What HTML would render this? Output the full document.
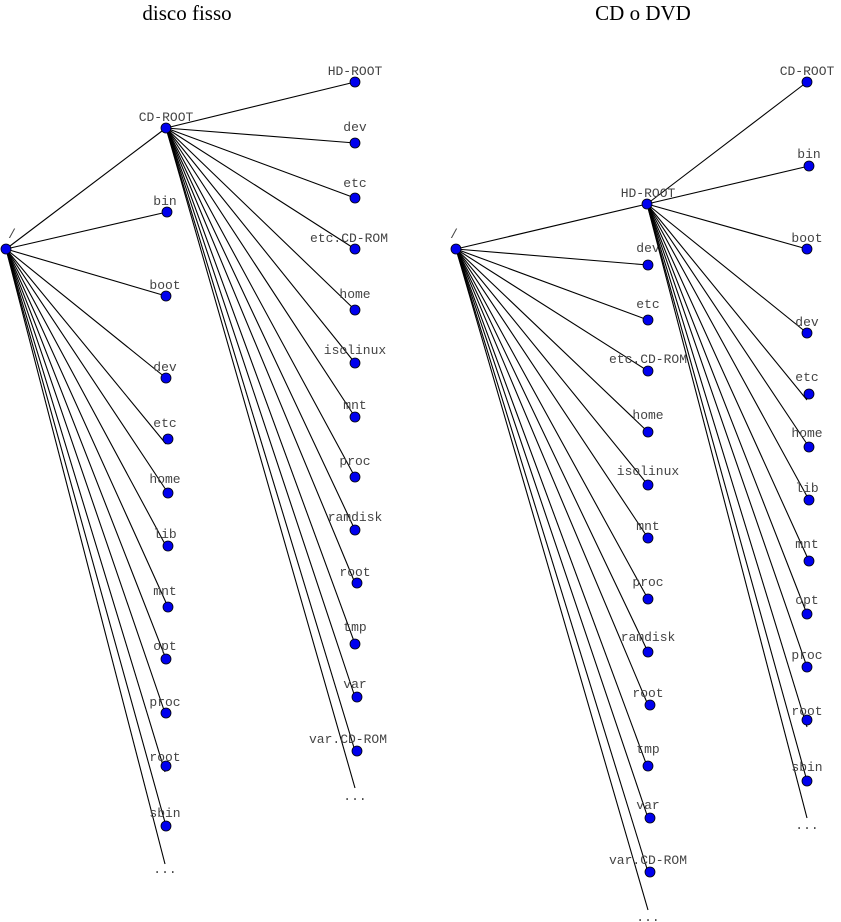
<!DOCTYPE html>
<html><head><meta charset="utf-8"><style>
html,body{margin:0;padding:0;background:#fff;}
svg{display:block}
.t{font-family:"Liberation Serif",serif;font-size:21px;fill:#000}
.l{font-family:"Liberation Mono",monospace;font-size:13px;fill:#444;text-anchor:middle}
line{stroke:#000;stroke-width:1.1}
circle{fill:#0000ee;stroke:#000;stroke-width:0.8}
</style></head><body>
<svg width="841" height="922" viewBox="0 0 841 922" xmlns="http://www.w3.org/2000/svg">
<text class="t" x="187" y="20" text-anchor="middle">disco fisso</text>
<text class="t" x="643" y="20" text-anchor="middle">CD o DVD</text>

<!-- LEFT: / tree -->
<g>
<line x1="6" y1="249" x2="166" y2="128"/>
<line x1="6" y1="249" x2="167" y2="212"/>
<line x1="6" y1="249" x2="166" y2="296"/>
<line x1="6" y1="249" x2="166" y2="378"/>
<line x1="6" y1="249" x2="166" y2="444"/>
<line x1="6" y1="249" x2="168" y2="493"/>
<line x1="6" y1="249" x2="166" y2="546"/>
<line x1="6" y1="249" x2="168" y2="607"/>
<line x1="6" y1="249" x2="166" y2="659"/>
<line x1="6" y1="249" x2="165" y2="713"/>
<line x1="6" y1="249" x2="165" y2="772"/>
<line x1="6" y1="249" x2="166" y2="826"/>
<line x1="6" y1="249" x2="165" y2="864"/>
<circle cx="6" cy="249" r="5"/>
<text class="l" x="12" y="238">/</text>
<circle cx="167" cy="212" r="5"/><text class="l" x="165" y="205">bin</text>
<circle cx="166" cy="296" r="5"/><text class="l" x="165" y="289">boot</text>
<circle cx="166" cy="378" r="5"/><text class="l" x="165" y="371">dev</text>
<circle cx="168" cy="439" r="5"/><text class="l" x="165" y="427">etc</text>
<circle cx="168" cy="493" r="5"/><text class="l" x="165" y="483">home</text>
<circle cx="168" cy="546" r="5"/><text class="l" x="165" y="538">lib</text>
<circle cx="168" cy="607" r="5"/><text class="l" x="165" y="595">mnt</text>
<circle cx="166" cy="659" r="5"/><text class="l" x="165" y="650">opt</text>
<circle cx="166" cy="713" r="5"/><text class="l" x="165" y="706">proc</text>
<circle cx="166" cy="766" r="5"/><text class="l" x="165" y="761">root</text>
<circle cx="166" cy="826" r="5"/><text class="l" x="165" y="817">sbin</text>
<text class="l" x="165" y="873">...</text>
</g>

<!-- LEFT: CD-ROOT tree -->
<g>
<line x1="166" y1="128" x2="355" y2="82"/>
<line x1="166" y1="128" x2="355" y2="143"/>
<line x1="166" y1="128" x2="355" y2="198"/>
<line x1="166" y1="128" x2="355" y2="249"/>
<line x1="166" y1="128" x2="355" y2="310"/>
<line x1="166" y1="128" x2="355" y2="363"/>
<line x1="166" y1="128" x2="355" y2="417"/>
<line x1="166" y1="128" x2="355" y2="477"/>
<line x1="166" y1="128" x2="355" y2="530"/>
<line x1="166" y1="128" x2="355" y2="583"/>
<line x1="166" y1="128" x2="355" y2="644"/>
<line x1="166" y1="128" x2="355" y2="697"/>
<line x1="166" y1="128" x2="355" y2="751"/>
<line x1="166" y1="128" x2="355" y2="788"/>
<circle cx="166" cy="128" r="5"/><text class="l" x="166" y="121">CD-ROOT</text>
<circle cx="355" cy="82" r="5"/><text class="l" x="355" y="75">HD-ROOT</text>
<circle cx="355" cy="143" r="5"/><text class="l" x="355" y="131">dev</text>
<circle cx="355" cy="198" r="5"/><text class="l" x="355" y="187">etc</text>
<circle cx="355" cy="249" r="5"/><text class="l" x="349" y="242">etc.CD-ROM</text>
<circle cx="355" cy="310" r="5"/><text class="l" x="355" y="298">home</text>
<circle cx="355" cy="363" r="5"/><text class="l" x="355" y="354">isolinux</text>
<circle cx="355" cy="417" r="5"/><text class="l" x="355" y="409">mnt</text>
<circle cx="355" cy="477" r="5"/><text class="l" x="355" y="465">proc</text>
<circle cx="355" cy="530" r="5"/><text class="l" x="355" y="521">ramdisk</text>
<circle cx="357" cy="583" r="5"/><text class="l" x="355" y="576">root</text>
<circle cx="355" cy="644" r="5"/><text class="l" x="355" y="631">tmp</text>
<circle cx="357" cy="697" r="5"/><text class="l" x="355" y="688">var</text>
<circle cx="357" cy="751" r="5"/><text class="l" x="348" y="743">var.CD-ROM</text>
<text class="l" x="355" y="800">...</text>
</g>

<!-- RIGHT: / tree -->
<g>
<line x1="456" y1="249" x2="647" y2="204"/>
<line x1="456" y1="249" x2="648" y2="265"/>
<line x1="456" y1="249" x2="648" y2="320"/>
<line x1="456" y1="249" x2="648" y2="371"/>
<line x1="456" y1="249" x2="648" y2="432"/>
<line x1="456" y1="249" x2="648" y2="485"/>
<line x1="456" y1="249" x2="648" y2="538"/>
<line x1="456" y1="249" x2="648" y2="599"/>
<line x1="456" y1="249" x2="648" y2="652"/>
<line x1="456" y1="249" x2="648" y2="705"/>
<line x1="456" y1="249" x2="647" y2="766"/>
<line x1="456" y1="249" x2="648" y2="818"/>
<line x1="456" y1="249" x2="648" y2="872"/>
<line x1="456" y1="249" x2="648" y2="910"/>
<circle cx="456" cy="249" r="5"/><text class="l" x="454" y="238">/</text>
<circle cx="648" cy="265" r="5"/><text class="l" x="648" y="252">dev</text>
<circle cx="648" cy="320" r="5"/><text class="l" x="648" y="308">etc</text>
<circle cx="648" cy="371" r="5"/><text class="l" x="648" y="363">etc.CD-ROM</text>
<circle cx="648" cy="432" r="5"/><text class="l" x="648" y="419">home</text>
<circle cx="648" cy="485" r="5"/><text class="l" x="648" y="475">isolinux</text>
<circle cx="648" cy="538" r="5"/><text class="l" x="648" y="530">mnt</text>
<circle cx="648" cy="599" r="5"/><text class="l" x="648" y="586">proc</text>
<circle cx="648" cy="652" r="5"/><text class="l" x="648" y="641">ramdisk</text>
<circle cx="650" cy="705" r="5"/><text class="l" x="648" y="697">root</text>
<circle cx="648" cy="766" r="5"/><text class="l" x="648" y="753">tmp</text>
<circle cx="650" cy="818" r="5"/><text class="l" x="648" y="809">var</text>
<circle cx="650" cy="872" r="5"/><text class="l" x="648" y="864">var.CD-ROM</text>
<text class="l" x="648" y="921">...</text>
</g>

<!-- RIGHT: HD-ROOT tree -->
<g>
<line x1="647" y1="204" x2="807" y2="82"/>
<line x1="647" y1="204" x2="809" y2="166"/>
<line x1="647" y1="204" x2="807" y2="249"/>
<line x1="647" y1="204" x2="807" y2="333"/>
<line x1="647" y1="204" x2="807" y2="400"/>
<line x1="647" y1="204" x2="809" y2="447"/>
<line x1="647" y1="204" x2="809" y2="500"/>
<line x1="647" y1="204" x2="809" y2="561"/>
<line x1="647" y1="204" x2="807" y2="614"/>
<line x1="647" y1="204" x2="807" y2="667"/>
<line x1="647" y1="204" x2="807" y2="727"/>
<line x1="647" y1="204" x2="807" y2="781"/>
<line x1="647" y1="204" x2="807" y2="818"/>
<circle cx="647" cy="204" r="5"/><text class="l" x="648" y="197">HD-ROOT</text>
<circle cx="807" cy="82" r="5"/><text class="l" x="807" y="75">CD-ROOT</text>
<circle cx="809" cy="166" r="5"/><text class="l" x="809" y="158">bin</text>
<circle cx="807" cy="249" r="5"/><text class="l" x="807" y="242">boot</text>
<circle cx="807" cy="333" r="5"/><text class="l" x="807" y="326">dev</text>
<circle cx="809" cy="394" r="5"/><text class="l" x="807" y="381">etc</text>
<circle cx="809" cy="447" r="5"/><text class="l" x="807" y="437">home</text>
<circle cx="809" cy="500" r="5"/><text class="l" x="807" y="492">lib</text>
<circle cx="809" cy="561" r="5"/><text class="l" x="807" y="548">mnt</text>
<circle cx="807" cy="614" r="5"/><text class="l" x="807" y="604">opt</text>
<circle cx="807" cy="667" r="5"/><text class="l" x="807" y="659">proc</text>
<circle cx="807" cy="720" r="5"/><text class="l" x="807" y="715">root</text>
<circle cx="807" cy="781" r="5"/><text class="l" x="807" y="771">sbin</text>
<text class="l" x="807" y="829">...</text>
</g>
</svg>
</body></html>
